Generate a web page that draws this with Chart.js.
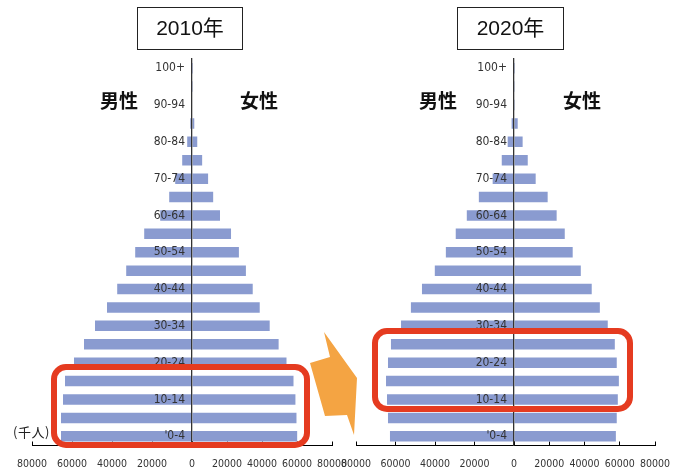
<!DOCTYPE html>
<html lang="ja">
<head>
<meta charset="utf-8">
<title>人口ピラミッド 2010年・2020年</title>
<script src="https://cdn.jsdelivr.net/npm/chart.js@4.4.1/dist/chart.umd.min.js"></script>
<style>
  html, body { margin: 0; padding: 0; background: #fff; }
  body {
    width: 674px; height: 470px; position: relative; overflow: hidden;
    font-family: 'Liberation Sans', 'Noto Sans CJK JP', sans-serif;
  }
  .side { position: absolute; top: 0; height: 490px; }
  .female { z-index: 1; }
  .male { z-index: 2; }
  .year {
    position: absolute; top: 7px; height: 43px; z-index: 3;
    border: 1.5px solid #222; box-sizing: border-box;
    font-size: 21px; line-height: 40px; text-align: center; color: #111;
  }
  .sex {
    position: absolute; top: 86px; z-index: 3; line-height: 1;
    font: bold 19px 'Noto Sans CJK JP', sans-serif; color: #111;
  }
  .focus {
    position: absolute; z-index: 4; box-sizing: border-box;
    border: 6.5px solid #e53b20; border-radius: 15px;
  }
  .unit {
    position: absolute; left: 13px; top: 422px; z-index: 3;
    font: 13px 'Noto Sans CJK JP', sans-serif; color: #222; letter-spacing: 0.5px;
  }
  #arrow { position: absolute; left: 0; top: 0; z-index: 3; }
</style>
</head>
<body>

<div class="year" style="left:137px; width:106px;">2010年</div>
<div class="year" style="left:457px; width:107px;">2020年</div>

<div class="sex" style="left:100px;">男性</div>
<div class="sex" style="left:240px;">女性</div>
<div class="sex" style="left:419px;">男性</div>
<div class="sex" style="left:563px;">女性</div>

<div class="unit">(千人)</div>

<div class="side male" style="left:-2px; width:224px;"><canvas id="male2010"></canvas></div>
<div class="side female" style="left:172px; width:194px;"><canvas id="female2010"></canvas></div>
<div class="side male" style="left:322px; width:222px;"><canvas id="male2020"></canvas></div>
<div class="side female" style="left:494px; width:195px;"><canvas id="female2020"></canvas></div>

<div class="focus" style="left:51px; top:364px; width:259px; height:84px;"></div>
<div class="focus" style="left:372px; top:328px; width:261px; height:84px;"></div>

<svg id="arrow" width="674" height="470">
  <polygon points="324,332 357,378 354,435 347,415 325,416 310,363 330,357" fill="#f4a443"/>
</svg>

<script>
// 年齢階級（若い順）
const ageGroups = ["'0-4", '5-9', '10-14', '15-19', '20-24', '25-29', '30-34', '35-39',
    '40-44', '45-49', '50-54', '55-59', '60-64', '65-69', '70-74', '75-79',
    '80-84', '85-89', '90-94', '95-99', '100+'];

// 人口（千人）
const male2010 = [65500, 65500, 64500, 63500, 59000, 54000, 48500, 42500, 37400, 32900,
    28400, 23900, 15900, 11400, 8400, 4900, 2400, 850, 150, 40, 5];
const female2010 = [60100, 59700, 59100, 58000, 54000, 49500, 44400, 38700, 34700, 30800,
    26800, 22300, 16000, 12100, 9200, 5800, 3000, 1300, 300, 60, 10];
const male2020 = [62800, 63800, 64300, 64800, 63800, 62300, 57200, 52200, 46600, 40100,
    34500, 29500, 23900, 17800, 10800, 6200, 3200, 1200, 300, 60, 10];
const female2020 = [57800, 58300, 58900, 59500, 58300, 57200, 53200, 48700, 44100, 37900,
    33300, 28800, 24200, 19100, 12300, 7800, 4900, 2100, 500, 100, 20];

// 横軸の目盛
const axisMax = 80000;
const axisStep = 20000;

const barColor = '#8a9bd0';
const narrowFont = "'Liberation Sans Narrow', 'DejaVu Sans Condensed', Arial, sans-serif";

// 片側（男性または女性）の横棒グラフを作る
function buildSide(canvasId, values, isMale) {
    const ctx = document.getElementById(canvasId);
    if (!ctx) {
        console.error('canvas not found:', canvasId);
        return null;
    }

    // 男性側の右端に年齢ラベルと中心線を描く
    const yScale = isMale ? {
        position: 'right',
        reverse: true,
        afterFit: (scale) => { scale.width = 30; },
        border: { color: '#333', width: 1.3, z: 1 },
        grid: { drawOnChartArea: false, drawTicks: false },
        ticks: {
            mirror: true,
            padding: -7,
            z: 1,
            autoSkip: false,
            color: '#333',
            font: { family: narrowFont, size: 12 },
            // 2階級おきにラベルを表示
            callback: function (value, index) {
                return index % 2 === 0 ? this.getLabelForValue(value) : '';
            }
        }
    } : { display: false, reverse: true };

    return new Chart(ctx.getContext('2d'), {
        type: 'bar',
        data: {
            labels: ageGroups,
            datasets: [{
                label: isMale ? '男性' : '女性',
                data: values,
                backgroundColor: barColor,
                borderWidth: 0,
                barPercentage: 0.57,
                categoryPercentage: 1
            }]
        },
        options: {
            indexAxis: 'y',
            responsive: true,
            maintainAspectRatio: false,
            animation: false,
            layout: {
                padding: isMale
                    ? { left: 34, right: 0, top: 59, bottom: 4.5 }
                    : { left: 20, right: 34, top: 59, bottom: 4.5 }
            },
            plugins: {
                legend: { display: false },
                tooltip: { enabled: false }
            },
            scales: {
                x: {
                    min: 0,
                    max: axisMax,
                    reverse: isMale,
                    afterFit: (scale) => { scale.height = 40; },
                    border: { color: '#000', width: 1 },
                    grid: { drawOnChartArea: false, drawTicks: true, tickLength: -4, color: '#000' },
                    ticks: {
                        stepSize: axisStep,
                        padding: 16,
                        maxRotation: 0,
                        color: '#333',
                        font: { family: narrowFont, size: 10.5 },
                        callback: (v) => (!isMale && v === 0) ? '' : String(v)
                    }
                },
                y: yScale
            }
        }
    });
}

buildSide('male2010', male2010, true);
buildSide('female2010', female2010, false);
buildSide('male2020', male2020, true);
buildSide('female2020', female2020, false);
</script>
</body>
</html>
